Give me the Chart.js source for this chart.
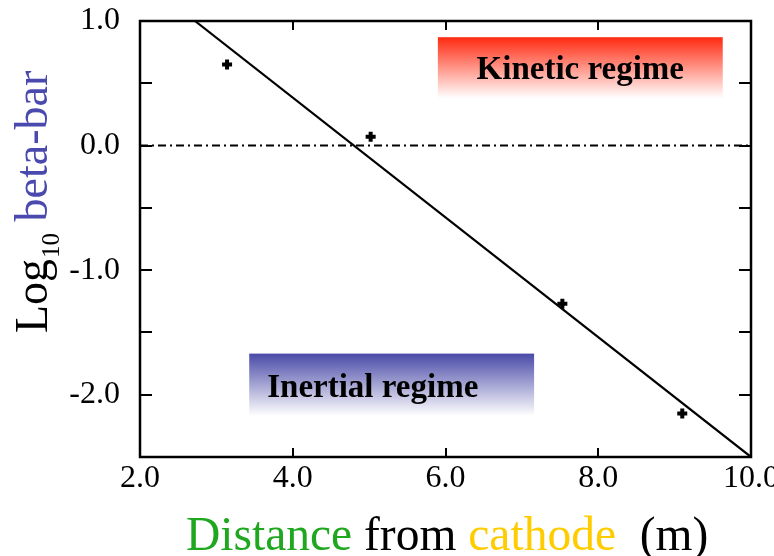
<!DOCTYPE html>
<html>
<head>
<meta charset="utf-8">
<script src="https://cdn.jsdelivr.net/npm/chart.js@4.4.1/dist/chart.umd.min.js"></script>
<style>
  html, body { margin: 0; padding: 0; background: #fff; }
  #wrap { width: 774px; height: 556px; position: relative; }
</style>
</head>
<body>
<div id="wrap"><canvas id="c" width="774" height="556"></canvas></div>
<script>
// ---- data ----
const distance = [3.14, 5.02, 7.53, 9.10];
const logBetaBar = [0.65, 0.07, -1.27, -2.15];
const fitX = [2.72, 10.0];
const fitY = [1.0, -2.5];
const zeroX = [2.0, 10.0];
const zeroY = [0.0, 0.0];
const xTickValues = [2, 4, 6, 8, 10];
const xTickLabels = ['2.0', '4.0', '6.0', '8.0', '10.0'];
const yTickValues = [1, 0, -1, -2];
const yTickLabels = ['1.0', '0.0', '-1.0', '-2.0'];
const regimeLabels = ['Kinetic regime', 'Inertial regime'];

const SERIF = '"Liberation Serif", "Times New Roman", serif';

function pts(xs, ys) { return xs.map((x, i) => ({ x: x, y: ys[i] })); }

const decor = {
  id: 'decor',
  beforeDatasetsDraw(chart) {
    const ctx = chart.ctx, xs = chart.scales.x, ys = chart.scales.y;
    // Kinetic box
    let x0 = xs.getPixelForValue(5.90), x1 = xs.getPixelForValue(9.63);
    let y0 = ys.getPixelForValue(0.87), y1 = ys.getPixelForValue(0.38);
    let g = ctx.createLinearGradient(0, y0, 0, y1);
    g.addColorStop(0, '#ff2a10');
    g.addColorStop(1, '#ffffff');
    ctx.save();
    ctx.fillStyle = g;
    ctx.fillRect(x0, y0, x1 - x0, y1 - y0);
    ctx.fillStyle = '#000';
    ctx.font = 'bold 33px ' + SERIF;
    ctx.textAlign = 'center';
    ctx.textBaseline = 'alphabetic';
    ctx.fillText(regimeLabels[0], (x0 + x1) / 2, y0 + 42);
    // Inertial box
    x0 = xs.getPixelForValue(3.43); x1 = xs.getPixelForValue(7.16);
    y0 = ys.getPixelForValue(-1.67); y1 = ys.getPixelForValue(-2.17);
    g = ctx.createLinearGradient(0, y0, 0, y1);
    g.addColorStop(0, '#4a4aa8');
    g.addColorStop(1, '#ffffff');
    ctx.fillStyle = g;
    ctx.fillRect(x0, y0, x1 - x0, y1 - y0);
    ctx.fillStyle = '#000';
    ctx.textAlign = 'left';
    ctx.fillText(regimeLabels[1], x0 + 18, y0 + 43);
    ctx.restore();
  },
  afterDraw(chart) {
    const ctx = chart.ctx, a = chart.chartArea, xs = chart.scales.x, ys = chart.scales.y;
    ctx.save();
    ctx.strokeStyle = '#000';
    ctx.lineWidth = 2.5;
    ctx.strokeRect(a.left, a.top, a.right - a.left, a.bottom - a.top);
    ctx.lineWidth = 2;
    ctx.beginPath();
    for (let v = -2.0; v <= 0.51; v += 0.5) {
      const y = Math.round(ys.getPixelForValue(v));
      ctx.moveTo(a.left, y); ctx.lineTo(a.left + 12, y);
      ctx.moveTo(a.right, y); ctx.lineTo(a.right - 12, y);
    }
    [4, 6, 8].forEach(v => {
      const x = Math.round(xs.getPixelForValue(v));
      ctx.moveTo(x, a.bottom); ctx.lineTo(x, a.bottom - 9);
      ctx.moveTo(x, a.top); ctx.lineTo(x, a.top + 9);
    });
    ctx.stroke();

    // x-axis title (multi-coloured)
    ctx.font = '47.5px ' + SERIF;
    ctx.textBaseline = 'alphabetic';
    ctx.textAlign = 'left';
    const parts = [['Distance', '#1fa81f'], [' from ', '#000'], ['cathode', '#ffcc00'], ['  (m)', '#000']];
    let x = 186;
    parts.forEach(p => {
      ctx.fillStyle = p[1];
      ctx.fillText(p[0], x, 550);
      x += ctx.measureText(p[0]).width;
    });

    // y-axis title (rotated)
    ctx.translate(47, 333);
    ctx.rotate(-Math.PI / 2);
    ctx.fillStyle = '#000';
    ctx.font = '46px ' + SERIF;
    ctx.fillText('Log', 0, 0);
    let w = ctx.measureText('Log').width;
    ctx.font = '25px ' + SERIF;
    ctx.fillText('10', w + 1, 12);
    w += ctx.measureText('10').width + 1;
    ctx.font = '46px ' + SERIF;
    ctx.fillStyle = '#4a4aae';
    ctx.fillText(' beta-bar', w, 0);
    ctx.restore();
  }
};

new Chart(document.getElementById('c'), {
  type: 'scatter',
  data: {
    datasets: [
      {
        label: 'fit',
        type: 'line',
        data: pts(fitX, fitY),
        borderColor: '#000',
        borderWidth: 2.2,
        pointRadius: 0,
        fill: false
      },
      {
        label: 'zero',
        type: 'line',
        data: pts(zeroX, zeroY),
        borderColor: '#000',
        borderWidth: 2,
        borderDash: [8, 4, 2, 4],
        pointRadius: 0,
        fill: false
      },
      {
        label: 'log beta-bar',
        data: pts(distance, logBetaBar),
        pointStyle: 'cross',
        pointRadius: 5,
        borderColor: '#000',
        backgroundColor: '#000',
        borderWidth: 4
      }
    ]
  },
  options: {
    responsive: false,
    animation: false,
    clip: 0,
    layout: { padding: { left: 0, top: 21, right: 23, bottom: 0 } },
    plugins: { legend: { display: false }, tooltip: { enabled: false } },
    scales: {
      x: {
        type: 'linear',
        min: 2, max: 10,
        grid: { display: false, drawTicks: false },
        border: { display: false },
        afterBuildTicks(s) { s.ticks = xTickValues.map(v => ({ value: v })); },
        ticks: {
          autoSkip: false,
          maxRotation: 0,
          padding: 2,
          color: '#000',
          font: { family: SERIF, size: 32 },
          callback(v) { const i = xTickValues.indexOf(v); return i >= 0 ? xTickLabels[i] : ''; }
        },
        afterFit(s) { s.height = 99; s.paddingLeft = 0; s.paddingRight = 0; }
      },
      y: {
        type: 'linear',
        min: -2.5, max: 1.0,
        grid: { display: false, drawTicks: false },
        border: { display: false },
        afterBuildTicks(s) { s.ticks = yTickValues.map(v => ({ value: v })); },
        ticks: {
          autoSkip: false,
          padding: 20,
          color: '#000',
          font: { family: SERIF, size: 32 },
          callback(v) { const i = yTickValues.indexOf(v); return i >= 0 ? yTickLabels[i] : ''; }
        },
        afterFit(s) { s.width = 140; s.paddingTop = 0; s.paddingBottom = 0; }
      }
    }
  },
  plugins: [decor]
});
</script>
</body>
</html>
